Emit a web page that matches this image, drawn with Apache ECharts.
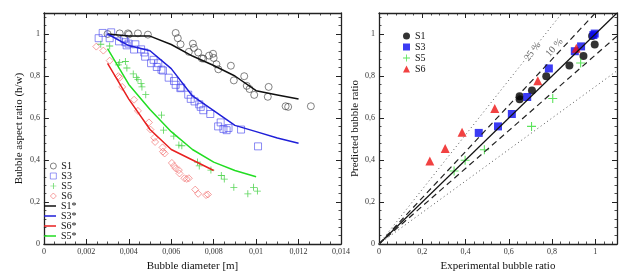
<!DOCTYPE html>
<html>
<head>
<meta charset="utf-8">
<script src="https://cdn.jsdelivr.net/npm/echarts@6/dist/echarts.min.js"></script>
<style>
  html, body { margin: 0; padding: 0; background: #fff; }
  #main { width: 621px; height: 277px; }
</style>
</head>
<body>
<div id="main"></div>
<script>
// left panel: measured aspect ratio vs diameter
var s1Points = [[0.0030,1.000],[0.00357,1.003],[0.00396,1.003],[0.0040,0.998],[0.00443,1.003],[0.0049,0.997],
  [0.00621,1.005],[0.00631,0.980],[0.00644,0.951],[0.00683,0.915],[0.00702,0.954],[0.00707,0.934],[0.00727,0.912],
  [0.00744,0.884],[0.00751,0.883],[0.00778,0.897],[0.00797,0.906],[0.0080,0.886],[0.00813,0.856],[0.00822,0.832],
  [0.00881,0.849],[0.00895,0.779],[0.00944,0.799],[0.00956,0.753],[0.00969,0.738],[0.00991,0.710],[0.01059,0.748],
  [0.01055,0.701],[0.01139,0.656],[0.01151,0.653],[0.01258,0.656]];
var s3Points = [[0.00258,0.980],[0.00277,1.005],[0.00317,1.008],[0.0031,0.980],[0.00354,0.965],[0.00378,0.977],
  [0.00384,0.961],[0.0039,0.946],[0.00399,0.954],[0.00425,0.926],[0.00431,0.951],[0.00458,0.927],[0.00473,0.912],
  [0.00477,0.892],[0.00505,0.861],[0.00517,0.877],[0.00532,0.843],[0.00539,0.861],[0.00554,0.830],[0.00561,0.826],
  [0.00588,0.792],[0.00613,0.776],[0.00621,0.758],[0.00643,0.742],[0.00647,0.745],[0.0068,0.711],[0.00692,0.691],
  [0.0071,0.679],[0.00732,0.665],[0.00739,0.653],[0.00751,0.637],[0.00784,0.619],[0.00821,0.560],[0.00833,0.579],
  [0.00846,0.548],[0.00861,0.542],[0.0087,0.552],[0.00929,0.545],[0.01009,0.465]];
var s5Points = [[0.00268,0.951],[0.0031,0.943],[0.00357,0.864],[0.00351,0.853],[0.00384,0.869],[0.00391,0.838],
  [0.00421,0.810],[0.00436,0.792],[0.00443,0.784],[0.00458,0.764],[0.00462,0.748],[0.0048,0.711],[0.00554,0.614],
  [0.00564,0.542],[0.00612,0.514],[0.00636,0.471],[0.0065,0.468],[0.00724,0.390],[0.00732,0.372],[0.00787,0.352],
  [0.00836,0.326],[0.0085,0.309],[0.00895,0.270],[0.00961,0.239],[0.00988,0.270],[0.01006,0.252]];
var s6Points = [[0.00247,0.940],[0.0028,0.921],[0.0031,0.873],[0.00351,0.799],[0.00357,0.792],[0.00369,0.748],
  [0.00425,0.687],[0.00443,0.634],[0.00495,0.579],[0.00502,0.545],[0.0052,0.506],[0.00524,0.486],[0.00559,0.460],
  [0.00561,0.440],[0.00569,0.431],[0.00603,0.386],[0.00613,0.372],[0.00621,0.360],[0.00636,0.352],[0.00639,0.336],
  [0.00662,0.313],[0.00673,0.310],[0.00683,0.313],[0.00713,0.259],[0.00727,0.239],[0.00764,0.233],[0.00773,0.236]];

// model curves
var s1Model = [[0.003,1.0],[0.004,0.99],[0.005,0.99],[0.006,0.95],[0.007,0.895],[0.008,0.85],[0.009,0.80],[0.010,0.73],[0.011,0.71],[0.012,0.69]];
var s3Model = [[0.003,1.0],[0.004,0.945],[0.005,0.92],[0.006,0.835],[0.007,0.705],[0.008,0.635],[0.009,0.565],[0.010,0.535],[0.011,0.505],[0.012,0.48]];
var s6Model = [[0.003,0.86],[0.004,0.69],[0.005,0.545],[0.006,0.45],[0.007,0.40],[0.008,0.35]];
var s5Model = [[0.003,0.93],[0.004,0.76],[0.005,0.64],[0.006,0.535],[0.007,0.45],[0.008,0.39],[0.009,0.35],[0.010,0.32]];

// right panel: experimental vs predicted
var s1Parity = [[0.65,0.704],[0.65,0.689],[0.707,0.731],[0.773,0.799],[0.88,0.85],[0.945,0.895],[0.985,0.991],[0.997,0.95]];
var s3Parity = [[0.461,0.529],[0.55,0.56],[0.614,0.619],[0.685,0.70],[0.785,0.836],[0.905,0.918],[0.934,0.941],[0.997,1.002],[0.991,0.995]];
var s5Parity = [[0.347,0.348],[0.398,0.399],[0.487,0.449],[0.705,0.56],[0.803,0.693],[0.932,0.862]];
var s6Parity = [[0.235,0.395],[0.306,0.455],[0.384,0.532],[0.535,0.645],[0.734,0.777],[0.912,0.932]];

var diagLine = [[0,0],[1.1,1.1]];
var up10Line = [[0,0],[1.0,1.1]];
var low10Line = [[0,0],[1.1,0.99]];
var up25Line = [[0,0],[0.846,1.1]];
var low25Line = [[0,0],[1.1,0.825]];

var serif = 'Liberation Serif';
var plusPath = 'path://M4.4,0 L5.6,0 L5.6,4.4 L10,4.4 L10,5.6 L5.6,5.6 L5.6,10 L4.4,10 L4.4,5.6 L0,5.6 L0,4.4 L4.4,4.4 Z';

function fmt(v) {
  return String(parseFloat(v.toFixed(4))).replace('.', ',');
}

function axis(gridIndex, pos, max, interval, name, labels) {
  return {
    type: 'value', gridIndex: gridIndex, position: pos,
    min: 0, max: max, interval: interval,
    name: labels ? name : '', nameLocation: 'middle',
    nameGap: (pos === 'bottom') ? 17 : (gridIndex === 0 ? 19 : 15),
    nameTextStyle: { fontFamily: serif, fontSize: 11, color: '#111' },
    axisLine: { show: true, onZero: false, lineStyle: { color: '#222', width: 1.3 } },
    axisTick: { show: true, inside: true, length: 5, lineStyle: { color: '#222', width: 1 } },
    minorTick: { show: true, splitNumber: (max > 1 ? 5 : 4), length: 2.5, lineStyle: { color: '#222', width: 0.8 } },
    splitLine: { show: false },
    axisLabel: { show: labels, fontFamily: serif, fontSize: 8, color: '#333', margin: 4,
      showMaxLabel: max === 0.014, formatter: fmt }
  };
}

var legendText = { fontFamily: serif, fontSize: 10, color: '#111' };

var myChart = echarts.init(document.getElementById('main'));
myChart.setOption({
  animation: false,
  backgroundColor: '#fff',
  grid: [
    { left: 27, right: 280, top: 13, bottom: 26 },
    { left: 379, right: 4, top: 13, bottom: 27 }
  ],
  xAxis: [
    axis(0, 'bottom', 0.014, 0.002, 'Bubble diameter [m]', true),
    axis(0, 'top', 0.014, 0.002, '', false),
    axis(1, 'bottom', 1.1, 0.2, 'Experimental bubble ratio', true),
    axis(1, 'top', 1.1, 0.2, '', false)
  ],
  yAxis: [
    axis(0, 'left', 1.1, 0.2, 'Bubble aspect ratio (h/w)', true),
    axis(0, 'right', 1.1, 0.2, '', false),
    axis(1, 'left', 1.1, 0.2, 'Predicted bubble ratio', true),
    axis(1, 'right', 1.1, 0.2, '', false)
  ],
  legend: [
    {
      orient: 'vertical', left: 45, top: 156, itemGap: 0, itemWidth: 6, itemHeight: 6,
      itemStyle: { borderWidth: 0.7 },
      textStyle: legendText,
      data: ['S1', 'S3', 'S5', 'S6']
    },
    {
      orient: 'vertical', left: 39, top: 196, itemGap: 0, itemWidth: 12, itemHeight: 1.5,
      icon: 'rect',
      textStyle: legendText,
      data: ['S1*', 'S3*', 'S6*', 'S5*']
    },
    {
      orient: 'vertical', left: 398, top: 26, itemGap: 1, itemWidth: 7, itemHeight: 7,
      textStyle: legendText,
      data: ['S1 ', 'S3 ', 'S5 ', 'S6 ']
    }
  ],
  series: [
    { name: 'S1', type: 'scatter', data: s1Points, symbol: 'circle', symbolSize: 7,
      itemStyle: { color: 'rgba(255,255,255,0)', borderColor: '#222', borderWidth: 0.7 } },
    { name: 'S3', type: 'scatter', data: s3Points, symbol: 'rect', symbolSize: 7,
      itemStyle: { color: 'rgba(255,255,255,0)', borderColor: '#4a4aee', borderWidth: 0.8 } },
    { name: 'S5', type: 'scatter', data: s5Points, symbol: plusPath, symbolSize: 7,
      itemStyle: { color: '#33cc33' } },
    { name: 'S6', type: 'scatter', data: s6Points, symbol: 'diamond', symbolSize: [7, 7],
      itemStyle: { color: 'rgba(255,255,255,0)', borderColor: '#ee5555', borderWidth: 0.7 } },
    { name: 'S1*', type: 'line', data: s1Model, symbol: 'none', color: '#111', lineStyle: { width: 1.5, color: '#111' } },
    { name: 'S3*', type: 'line', data: s3Model, symbol: 'none', color: '#1f1fd8', lineStyle: { width: 1.5, color: '#1f1fd8' } },
    { name: 'S6*', type: 'line', data: s6Model, symbol: 'none', color: '#e82020', lineStyle: { width: 1.5, color: '#e82020' } },
    { name: 'S5*', type: 'line', data: s5Model, symbol: 'none', color: '#22dd22', lineStyle: { width: 1.5, color: '#22dd22' } },

    // parity reference lines
    { type: 'line', xAxisIndex: 2, yAxisIndex: 2, data: diagLine, symbol: 'none', lineStyle: { color: '#111', width: 1.2 } },
    { type: 'line', xAxisIndex: 2, yAxisIndex: 2, data: up10Line, symbol: 'none', lineStyle: { color: '#222', width: 1.2, type: [6, 4] } },
    { type: 'line', xAxisIndex: 2, yAxisIndex: 2, data: low10Line, symbol: 'none', lineStyle: { color: '#222', width: 1.2, type: [6, 4] } },
    { type: 'line', xAxisIndex: 2, yAxisIndex: 2, data: up25Line, symbol: 'none', lineStyle: { color: '#555', width: 1, type: [1, 3] } },
    { type: 'line', xAxisIndex: 2, yAxisIndex: 2, data: low25Line, symbol: 'none', lineStyle: { color: '#555', width: 1, type: [1, 3] } },
    { type: 'scatter', xAxisIndex: 2, yAxisIndex: 2, data: [[0.71, 0.916]], symbolSize: 0, silent: true,
      label: { show: true, position: 'inside', formatter: '25 %', rotate: 53, fontFamily: serif, fontSize: 10, color: '#444' } },
    { type: 'scatter', xAxisIndex: 2, yAxisIndex: 2, data: [[0.811, 0.935]], symbolSize: 0, silent: true,
      label: { show: true, position: 'inside', formatter: '10 %', rotate: 48, fontFamily: serif, fontSize: 10, color: '#444' } },

    { name: 'S1 ', type: 'scatter', xAxisIndex: 2, yAxisIndex: 2, data: s1Parity, symbol: 'circle', symbolSize: 8, itemStyle: { color: '#000' } },
    { name: 'S3 ', type: 'scatter', xAxisIndex: 2, yAxisIndex: 2, data: s3Parity, symbol: 'rect', symbolSize: 8, itemStyle: { color: '#0a0af0' } },
    { name: 'S5 ', type: 'scatter', xAxisIndex: 2, yAxisIndex: 2, data: s5Parity, symbol: plusPath, symbolSize: 9, itemStyle: { color: '#33dd33' } },
    { name: 'S6 ', type: 'scatter', xAxisIndex: 2, yAxisIndex: 2, data: s6Parity, symbol: 'triangle', symbolSize: 9, itemStyle: { color: '#ee1111' } }
  ]
});
</script>
</body>
</html>
